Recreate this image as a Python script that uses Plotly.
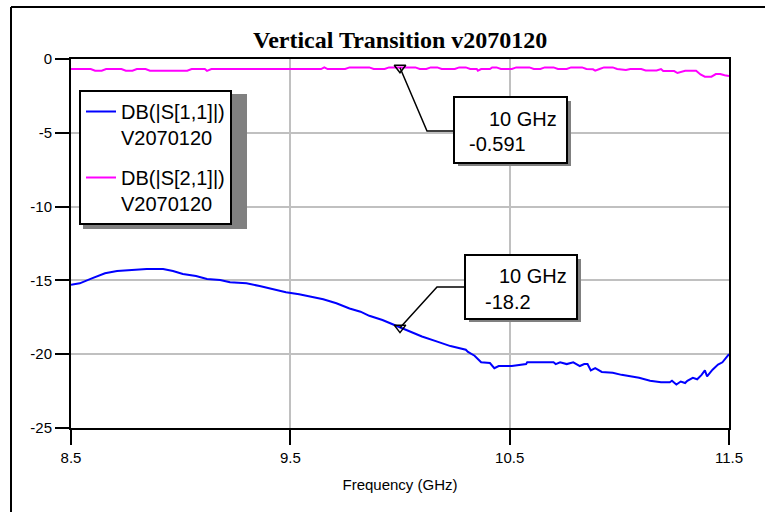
import plotly.graph_objects as go

# ---------------- data ----------------
s11_freq = [8.50, 8.54, 8.595, 8.655, 8.71, 8.78, 8.845, 8.92, 8.965, 9.01, 9.07, 9.12, 9.18,
            9.225, 9.30, 9.36, 9.42, 9.48, 9.54, 9.60, 9.65, 9.71, 9.77, 9.82, 9.86, 9.92,
            9.97, 10.00, 10.06, 10.10, 10.17, 10.23, 10.30, 10.31, 10.34, 10.37, 10.41,
            10.43, 10.45, 10.51, 10.575, 10.58, 10.70, 10.71, 10.73, 10.76, 10.79, 10.82,
            10.84, 10.855, 10.87, 10.89, 10.92, 10.97, 11.01, 11.06, 11.09, 11.14, 11.19,
            11.23, 11.24, 11.26, 11.28, 11.30, 11.31, 11.335, 11.355, 11.375, 11.39, 11.40,
            11.425, 11.45, 11.47, 11.50]
s11_db = [-15.3, -15.2, -14.86, -14.52, -14.36, -14.3, -14.23, -14.23, -14.36, -14.56, -14.7,
          -14.9, -14.97, -15.13, -15.2, -15.38, -15.58, -15.8, -15.94, -16.15, -16.28, -16.55,
          -16.9, -17.12, -17.4, -17.68, -18.0, -18.2, -18.55, -18.8, -19.15, -19.45, -19.7,
          -19.85, -20.1, -20.55, -20.6, -20.95, -20.8, -20.8, -20.67, -20.55, -20.55, -20.67,
          -20.55, -20.67, -20.55, -20.8, -20.67, -20.67, -21.1, -20.95, -21.2, -21.26, -21.4,
          -21.5, -21.6, -21.8, -21.9, -21.9, -21.8, -22.05, -21.85, -21.95, -21.8, -21.6,
          -21.7, -21.4, -21.1, -21.5, -21.05, -20.7, -20.55, -20.0]

s21_freq = [8.50, 8.59, 8.61, 8.64, 8.66, 8.73, 8.75, 8.78, 8.80, 8.84, 8.86, 9.03, 9.05,
            9.11, 9.12, 9.14, 9.64, 9.655, 9.67, 9.75, 9.77, 9.86, 9.88, 9.93, 9.95, 9.98,
            10.00, 10.02, 10.07, 10.09, 10.12, 10.14, 10.17, 10.19, 10.25, 10.27, 10.30,
            10.32, 10.35, 10.355, 10.37, 10.41, 10.42, 10.44, 10.46, 10.51, 10.53, 10.59,
            10.61, 10.64, 10.66, 10.70, 10.72, 10.76, 10.78, 10.83, 10.85, 10.88, 10.89,
            10.91, 10.93, 10.97, 10.99, 11.03, 11.05, 11.10, 11.12, 11.17, 11.19, 11.20,
            11.25, 11.265, 11.28, 11.30, 11.35, 11.37, 11.39, 11.42, 11.44, 11.46, 11.48, 11.50]
s21_db = [-0.68, -0.68, -0.79, -0.79, -0.68, -0.68, -0.79, -0.79, -0.68, -0.68, -0.79, -0.79,
          -0.68, -0.68, -0.80, -0.68, -0.68, -0.56, -0.68, -0.68, -0.57, -0.57, -0.68, -0.68,
          -0.57, -0.57, -0.59, -0.57, -0.57, -0.68, -0.68, -0.57, -0.57, -0.68, -0.68, -0.57,
          -0.57, -0.68, -0.68, -0.79, -0.68, -0.68, -0.57, -0.57, -0.68, -0.68, -0.57, -0.57,
          -0.68, -0.68, -0.57, -0.57, -0.68, -0.68, -0.57, -0.57, -0.68, -0.70, -0.79, -0.68,
          -0.57, -0.57, -0.68, -0.75, -0.68, -0.68, -0.78, -0.78, -0.68, -0.82, -0.82, -0.95,
          -0.88, -0.80, -0.80, -1.05, -1.20, -1.20, -1.02, -1.02, -1.10, -1.15]

series_names = ["DB(|S[1,1]|)<br>V2070120", "DB(|S[2,1]|)<br>V2070120"]
marker_freq = [10.0, 10.0]
marker_db = [-0.591, -18.2]

x_ticks = [8.5, 9.5, 10.5, 11.5]
x_tick_text = ["8.5", "9.5", "10.5", "11.5"]
y_ticks = [0, -5, -10, -15, -20, -25]
y_tick_text = ["0", "-5", "-10", "-15", "-20", "-25"]

title_text = "<b>Vertical Transition v2070120</b>"
x_title = "Frequency (GHz)"

# ---------------- layout helpers ----------------
W, H = 765, 512
L, R, T, B = 71, 36, 59, 84
PW, PH = W - L - R, H - T - B


def px(xpix):
    return (xpix - L) / PW


def py(ypix):
    return (H - B - ypix) / PH


ARIAL = "Liberation Sans, Arial, sans-serif"
TIMES = "Liberation Serif, Times New Roman, serif"
PAD = "\u00a0\u00a0"

fig = go.Figure()
fig.add_trace(go.Scatter(x=s11_freq, y=s11_db, mode="lines", name=series_names[0] + PAD,
                         legendgroup="s11",
                         line=dict(color="#0000ff", width=2)))
fig.add_trace(go.Scatter(x=s21_freq, y=s21_db, mode="lines", name=series_names[1] + PAD,
                         legendgroup="s21",
                         line=dict(color="#ff00ff", width=2)))
fig.add_trace(go.Scatter(x=marker_freq, y=marker_db, mode="markers", showlegend=False,
                         marker=dict(symbol="triangle-down-open", size=10,
                                     color="black", line=dict(width=1.5))))

shapes = []
annotations = []

# outer frame (only left and top edges are inside the picture)
shapes.append(dict(type="line", xref="paper", yref="paper", x0=px(11), x1=px(11),
                   y0=py(H), y1=py(7), line=dict(color="black", width=2)))
shapes.append(dict(type="line", xref="paper", yref="paper", x0=px(11), x1=px(W),
                   y0=py(7), y1=py(7), line=dict(color="black", width=2)))

# legend shadow
shapes.append(dict(type="rect", xref="paper", yref="paper", x0=px(83), x1=px(247),
                   y0=py(229), y1=py(94), fillcolor="#808080", line=dict(width=0),
                   layer="above"))

# marker callouts (pixel layout of each box, elbow of leader, text anchors)
callouts = [
    dict(box=(454, 97, 567, 163), elbow=(427, 131), f_xy=(487, 119), v_xy=(467, 144)),
    dict(box=(465, 255, 577, 319), elbow=(437, 287), f_xy=(497, 276), v_xy=(483, 302)),
]
for mi, c in enumerate(callouts):
    x0, y0, x1, y1 = c["box"]
    ex, ey = c["elbow"]
    shapes.append(dict(type="path", xref="x", yref="y",
                       path="M {},{} L {},{} L {},{}".format(
                           marker_freq[mi], marker_db[mi],
                           8.5 + 3 * px(ex), -25 + 25 * py(ey),
                           8.5 + 3 * px(x0), -25 + 25 * py(ey)),
                       line=dict(color="black", width=1.5), layer="above"))
    shapes.append(dict(type="rect", xref="paper", yref="paper", x0=px(x0 + 4), x1=px(x1 + 4),
                       y0=py(y1 + 3), y1=py(y0 + 4), fillcolor="#808080",
                       line=dict(width=0), layer="above"))
    shapes.append(dict(type="rect", xref="paper", yref="paper", x0=px(x0), x1=px(x1),
                       y0=py(y1), y1=py(y0), fillcolor="white",
                       line=dict(color="black", width=2), layer="above"))
    annotations.append(dict(xref="paper", yref="paper", x=px(c["f_xy"][0]), y=py(c["f_xy"][1]),
                            xanchor="left", yanchor="middle", showarrow=False,
                            text="{:g} GHz".format(marker_freq[mi]),
                            font=dict(family=ARIAL, size=20, color="black")))
    annotations.append(dict(xref="paper", yref="paper", x=px(c["v_xy"][0]), y=py(c["v_xy"][1]),
                            xanchor="left", yanchor="middle", showarrow=False,
                            text="{}".format(marker_db[mi]),
                            font=dict(family=ARIAL, size=20, color="black")))

# title
annotations.append(dict(xref="paper", yref="paper", x=0.5, y=py(40), xanchor="center",
                        yanchor="middle", showarrow=False, text=title_text,
                        font=dict(family=TIMES, size=24, color="black")))

fig.update_layout(
    width=W, height=H,
    margin=dict(l=L, r=R, t=T, b=B, pad=0),
    paper_bgcolor="white", plot_bgcolor="white",
    font=dict(family=ARIAL, color="black"),
    shapes=shapes, annotations=annotations,
    showlegend=True,
    legend=dict(x=px(79), y=py(90), xanchor="left", yanchor="top",
                bgcolor="white", bordercolor="black", borderwidth=2,
                font=dict(family=ARIAL, size=20, color="black"),
                valign="top", itemwidth=30, traceorder="grouped", tracegroupgap=11),
    xaxis=dict(range=[8.5, 11.5], tickvals=x_ticks, ticktext=x_tick_text,
               ticks="outside", ticklen=15, tickwidth=2, tickcolor="black",
               showline=True, linewidth=2, linecolor="black", mirror=True,
               showgrid=True, gridcolor="#c0c0c0", gridwidth=2, zeroline=False,
               tickfont=dict(family=ARIAL, size=15, color="black"),
               title=dict(text=x_title, font=dict(family=ARIAL, size=15, color="black"),
                          standoff=14)),
    yaxis=dict(range=[-25, 0], tickvals=y_ticks, ticktext=y_tick_text,
               ticks="outside", ticklen=14, tickwidth=2, tickcolor="black",
               showline=True, linewidth=2, linecolor="black", mirror=True,
               showgrid=True, gridcolor="#c0c0c0", gridwidth=2, zeroline=False,
               tickfont=dict(family=ARIAL, size=15, color="black")),
)

fig.write_html("out.html", config={"displayModeBar": False},
               post_script="document.documentElement.style.overflow='hidden';"
                           "document.body.style.overflow='hidden';"
                           "document.body.style.margin='0';")
